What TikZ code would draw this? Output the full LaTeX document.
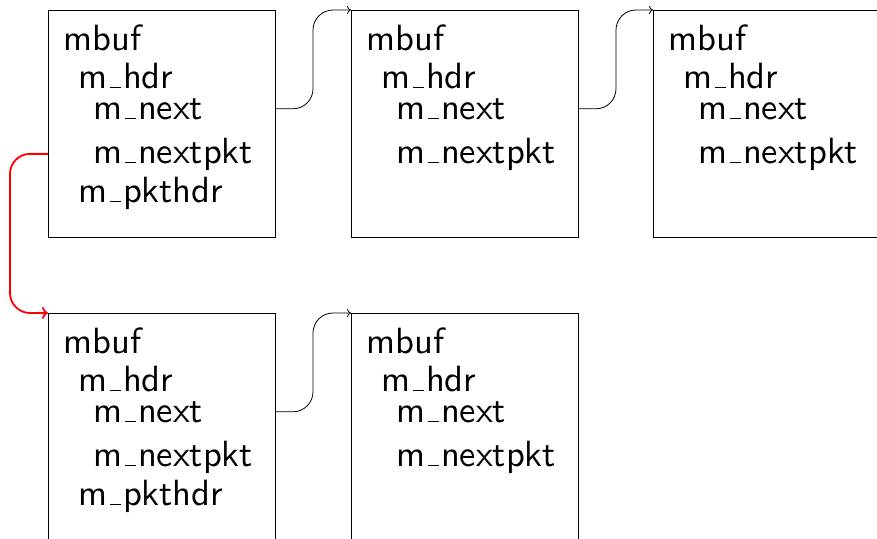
\documentclass[tikz,border=0pt]{standalone}
\usetikzlibrary{arrows.meta}
% narrow low underscore, as in the classic text underscore
\newcommand\us{\leavevmode\kern.06em\vbox{\hrule width.3em}\kern.06em}
\begin{document}
\begin{tikzpicture}[x=1pt,y=-1pt,
  buf/.style={draw,line width=0.8pt,minimum width=227pt,minimum height=227pt,
    inner sep=0pt,outer sep=0pt,anchor=north west},
  fld/.style={anchor=base west,inner sep=0pt,scale=3.65,
    font=\normalsize\sffamily},
  link/.style={draw,line width=0.8pt,-{To[length=4pt,width=8pt]},rounded corners=20pt},
  pkt/.style={draw,red,line width=1.8pt,-{To[length=6pt,width=12pt]},rounded corners=20pt}]
\useasboundingbox (0,0) rectangle (877,538);
\clip (0,0) rectangle (877,538);

% first packet: chain of three mbufs
\node[buf] (b1) at (48,10) {};
\node[fld] (t1) at (63,50)  {mbuf};
\node[fld] (h1) at (78,88)  {m\us hdr};
\node[fld] (n1) at (93,119) {m\us next};
\node[fld] (p1) at (93,163) {m\us nextpkt};
\node[fld] (k1) at (78,202) {m\us pkthdr};

\node[buf] (b2) at (351,10) {};
\node[fld] (t2) at (366,50)  {mbuf};
\node[fld] (h2) at (381,88)  {m\us hdr};
\node[fld] (n2) at (396,119) {m\us next};
\node[fld] (p2) at (396,163) {m\us nextpkt};

\node[buf] (b3) at (653,10) {};
\node[fld] (t3) at (668,50)  {mbuf};
\node[fld] (h3) at (683,88)  {m\us hdr};
\node[fld] (n3) at (698,119) {m\us next};
\node[fld] (p3) at (698,163) {m\us nextpkt};

% second packet: chain of two mbufs
\node[buf] (b4) at (48,313) {};
\node[fld] (t4) at (63,353)  {mbuf};
\node[fld] (h4) at (78,391)  {m\us hdr};
\node[fld] (n4) at (93,422) {m\us next};
\node[fld] (p4) at (93,466) {m\us nextpkt};
\node[fld] (k4) at (78,505) {m\us pkthdr};

\node[buf] (b5) at (351,313) {};
\node[fld] (t5) at (366,353)  {mbuf};
\node[fld] (h5) at (381,391)  {m\us hdr};
\node[fld] (n5) at (396,422) {m\us next};
\node[fld] (p5) at (396,466) {m\us nextpkt};

% m_next links
\draw[link] (b1.east |- n1) -- ++(38,0) |- (b2.north west);
\draw[link] (b2.east |- n2) -- ++(38,0) |- (b3.north west);
\draw[link] (b4.east |- n4) -- ++(38,0) |- (b5.north west);

% m_nextpkt link
\draw[pkt] (b1.west |- p1) -- ++(-38,0) |- (b4.north west);
\end{tikzpicture}
\end{document}
